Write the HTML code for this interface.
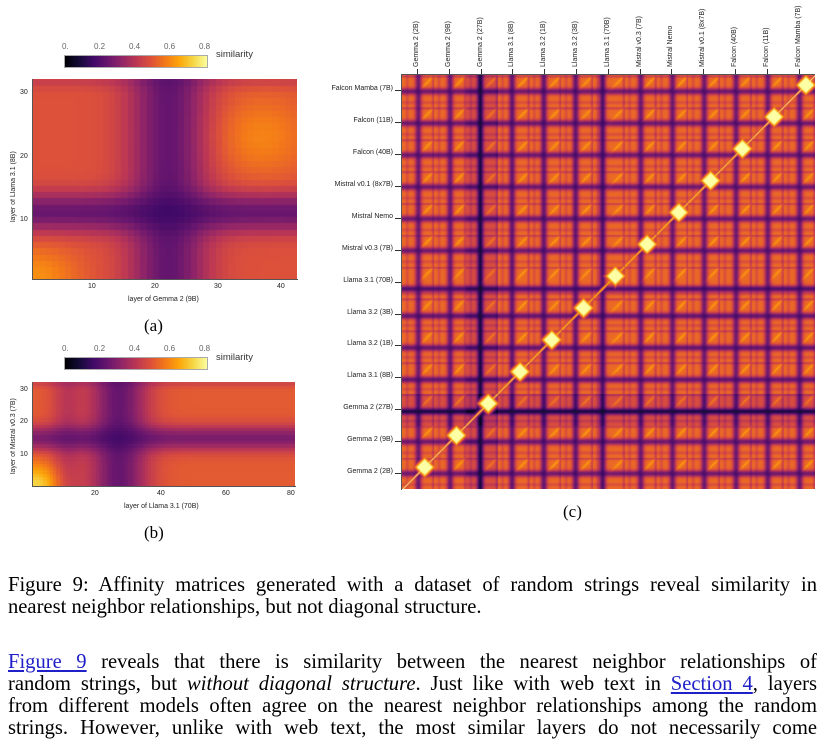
<!DOCTYPE html>
<html><head><meta charset="utf-8">
<style>
html,body{margin:0;padding:0;background:#fff;}
body{width:825px;height:746px;position:relative;overflow:hidden;font-family:"Liberation Sans",sans-serif;}
.abs{position:absolute;}
.sm{font-size:7px;color:#222;white-space:nowrap;}
.cb{font-size:8px;color:#666;}
.txt{position:absolute;left:8px;width:809px;font-family:"Liberation Serif",serif;font-size:20.6px;line-height:22px;color:#000;white-space:nowrap;}
.j{text-align:justify;text-align-last:justify;}
a{color:#2020c8;text-decoration:underline;}
canvas{position:absolute;}
.rot{position:absolute;transform-origin:0 0;transform:rotate(-90deg);font-size:7px;color:#222;white-space:nowrap;}
</style></head><body>

<canvas id="cba" width="142" height="11" style="left:64px;top:55px;border:1px solid #aaa"></canvas>
<div class="abs cb" style="left:62px;top:42px">0.</div>
<div class="abs cb" style="left:94px;top:42px">0.2</div>
<div class="abs cb" style="left:129px;top:42px">0.4</div>
<div class="abs cb" style="left:164px;top:42px">0.6</div>
<div class="abs cb" style="left:199px;top:42px">0.8</div>
<div class="abs" style="left:216px;top:49px;font-size:9.5px;color:#333">similarity</div>

<canvas id="ha" width="264" height="200" style="left:33px;top:79px"></canvas>
<div class="abs" style="left:32px;top:79px;width:1px;height:201px;background:#555"></div>
<div class="abs" style="left:32px;top:279px;width:266px;height:1px;background:#555"></div>
<div class="abs sm" style="left:20px;top:89px">30</div>
<div class="abs sm" style="left:20px;top:153px">20</div>
<div class="abs sm" style="left:20px;top:216px">10</div>
<div class="abs sm" style="left:88px;top:283px">10</div>
<div class="abs sm" style="left:151px;top:283px">20</div>
<div class="abs sm" style="left:214px;top:283px">30</div>
<div class="abs sm" style="left:277px;top:283px">40</div>
<div class="rot" style="left:10px;top:222px">layer of Llama 3.1 (8B)</div>
<div class="abs sm" style="left:128px;top:296px">layer of Gemma 2 (9B)</div>
<div class="abs" style="left:144px;top:316px;font-family:'Liberation Serif',serif;font-size:17px">(a)</div>

<canvas id="cbb" width="142" height="11" style="left:64px;top:357px;border:1px solid #aaa"></canvas>
<div class="abs cb" style="left:62px;top:344px">0.</div>
<div class="abs cb" style="left:94px;top:344px">0.2</div>
<div class="abs cb" style="left:129px;top:344px">0.4</div>
<div class="abs cb" style="left:164px;top:344px">0.6</div>
<div class="abs cb" style="left:199px;top:344px">0.8</div>
<div class="abs" style="left:216px;top:352px;font-size:9.5px;color:#333">similarity</div>

<canvas id="hb" width="262" height="104" style="left:33px;top:382px"></canvas>
<div class="abs" style="left:32px;top:382px;width:1px;height:105px;background:#555"></div>
<div class="abs" style="left:32px;top:486px;width:264px;height:1px;background:#555"></div>
<div class="abs sm" style="left:20px;top:386px">30</div>
<div class="abs sm" style="left:20px;top:418px">20</div>
<div class="abs sm" style="left:20px;top:451px">10</div>
<div class="abs sm" style="left:91px;top:490px">20</div>
<div class="abs sm" style="left:157px;top:490px">40</div>
<div class="abs sm" style="left:222px;top:490px">60</div>
<div class="abs sm" style="left:287px;top:490px">80</div>
<div class="rot" style="left:10px;top:474px">layer of Mistral v0.3 (7B)</div>
<div class="abs sm" style="left:124px;top:503px">layer of Llama 3.1 (70B)</div>
<div class="abs" style="left:144px;top:523px;font-family:'Liberation Serif',serif;font-size:17px">(b)</div>

<canvas id="hc" width="413" height="414" style="left:402px;top:75px"></canvas>
<div class="abs" style="left:401px;top:75px;width:1px;height:415px;background:#555"></div>
<div class="abs" style="left:401px;top:74px;width:414px;height:1px;background:#555"></div>
<div id="labs"></div>
<div class="abs" style="left:563px;top:502px;font-family:'Liberation Serif',serif;font-size:17px">(c)</div>

<div class="txt j" style="top:574px">Figure 9: Affinity matrices generated with a dataset of random strings reveal similarity in</div>
<div class="txt" style="top:596px">nearest neighbor relationships, but not diagonal structure.</div>
<div class="txt j" style="top:651px"><a>Figure 9</a> reveals that there is similarity between the nearest neighbor relationships of</div>
<div class="txt j" style="top:673px">random strings, but <i>without diagonal structure</i>. Just like with web text in <a>Section 4</a>, layers</div>
<div class="txt j" style="top:695px">from different models often agree on the nearest neighbor relationships among the random</div>
<div class="txt j" style="top:717px">strings. However, unlike with web text, the most similar layers do not necessarily come</div>

<script>
var stops=[[0,0,4],[22,11,57],[66,10,104],[106,23,110],[147,38,103],[188,55,84],[221,81,58],[243,120,25],[252,165,10],[246,215,70],[252,255,164]];
function cmap(v){var t=Math.max(0,Math.min(1,v/0.8))*10;var i=Math.min(9,Math.floor(t)),f=t-i;var a=stops[i],b=stops[i+1];
return [a[0]+(b[0]-a[0])*f,a[1]+(b[1]-a[1])*f,a[2]+(b[2]-a[2])*f];}
function draw(id,fn){var c=document.getElementById(id),x=c.getContext('2d'),w=c.width,h=c.height,d=x.createImageData(w,h);
for(var j=0;j<h;j++)for(var i=0;i<w;i++){var col=cmap(fn(i/w,1-j/h,i,j));var k=(j*w+i)*4;d.data[k]=col[0];d.data[k+1]=col[1];d.data[k+2]=col[2];d.data[k+3]=255;}
x.putImageData(d,0,0);}
function g(x,c,s){return Math.exp(-Math.pow((x-c)/s,2));}
draw('cba',function(u){return u*0.8;});
draw('cbb',function(u){return u*0.8;});
function q(x,n){return Math.floor(x*n)/n;}
draw('ha',function(u,v){u=q(u,42);v=q(v,32);
var px=1-0.7*g(u,0.5,0.15);var py=1-0.68*g(v,0.32,0.1)-0.15*g(v,0.98,0.04);
var s=0.12+0.36*px*py+0.1*g(u,0.85,0.18)*g(v,0.7,0.2)+0.12*g(u,0,0.15)*g(v,0,0.15);return s;});
draw('hb',function(u,v){u=q(u,80);v=q(v,32);
var px=1-0.7*g(u,0.32,0.11)-0.25*g(u,0.12,0.06);var py=1-0.6*g(v,0.45,0.12)-0.15*g(v,0.98,0.04);
var s=0.12+0.38*px*py+0.22*g(u,0,0.1)*g(v,0,0.2);return s;});
var dc=[0.5,0.5,0.45,0.45,0.45,0.45,0.3,0.5,0.5,0.5,0.5,0.5,0.5];
var dd=[0.7,0.7,0.95,0.75,0.75,0.75,0.85,0.7,0.7,0.7,0.7,0.7,0.7];
function prof(k,u){return 1-dd[k]*g(u,dc[k],0.1)-0.25*g(u,0.97,0.04)-0.15*g(u,0.15,0.05);}
draw('hc',function(u,v){var N=13;var bi=Math.min(12,Math.floor(u*N)),bj=Math.min(12,Math.floor(v*N));
var lu=u*N-bi,lv=v*N-bj;
var s=0.13+0.4*prof(bi,lu)*prof(bj,lv);
if(bi==2)s-=0.06;if(bj==2)s-=0.06;
var dg=Math.abs(lu-lv);
if(bi==bj){var sq=Math.max(0,1-(Math.abs(lu-0.7)+Math.abs(lv-0.7))/0.5);
s=Math.max(s,0.8*Math.exp(-dg*14),0.8*Math.min(1,sq*1.8));}
else{s+=0.12*Math.exp(-dg*25)*g(lu,0.8,0.25);}
return s;});
var names=["Gemma 2 (2B)","Gemma 2 (9B)","Gemma 2 (27B)","Llama 3.1 (8B)","Llama 3.2 (1B)","Llama 3.2 (3B)","Llama 3.1 (70B)","Mistral v0.3 (7B)","Mistral Nemo","Mistral v0.1 (8x7B)","Falcon (40B)","Falcon (11B)","Falcon Mamba (7B)"];
var h='';
for(var k=0;k<13;k++){var cx=417+k*31.8;var cy=473-k*31.9;
h+='<div class="rot" style="left:'+(cx-4)+'px;top:67px">'+names[k]+'</div>';
h+='<div class="abs" style="left:'+cx+'px;top:69px;width:1px;height:5px;background:#333"></div>';
h+='<div class="abs sm" style="right:'+(825-393)+'px;top:'+(cy-5)+'px">'+names[k]+'</div>';
h+='<div class="abs" style="left:395px;top:'+cy+'px;width:6px;height:1px;background:#333"></div>';}
document.getElementById('labs').innerHTML=h;
</script>
</body></html>
